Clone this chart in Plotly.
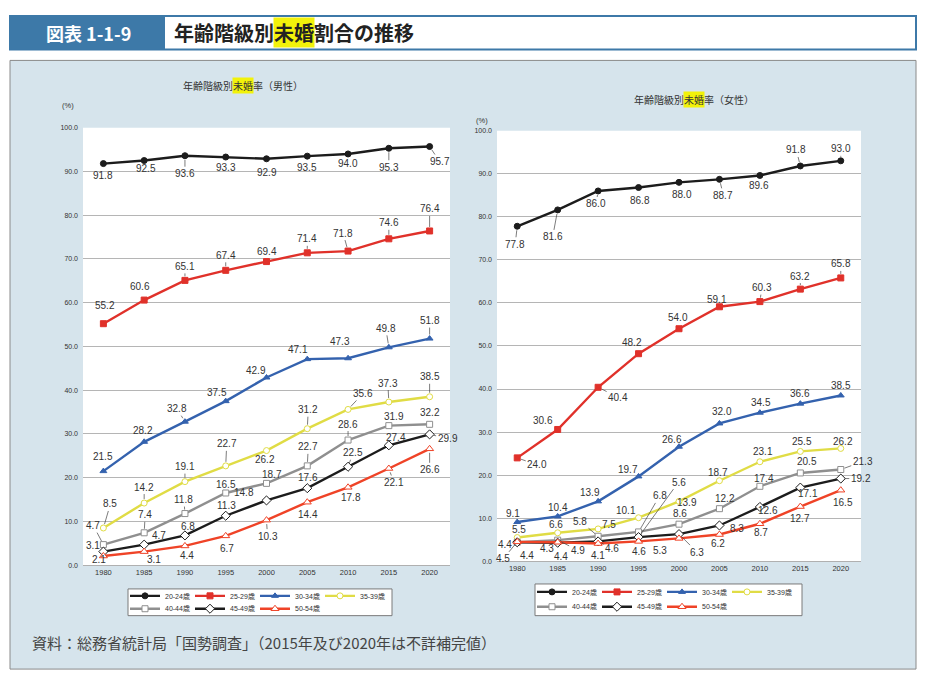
import plotly.graph_objects as go

W, H = 932, 681

# ---- data ----
YEARS = [1980, 1985, 1990, 1995, 2000, 2005, 2010, 2015, 2020]
AGE_GROUPS = ["20-24歳", "25-29歳", "30-34歳", "35-39歳", "40-44歳", "45-49歳", "50-54歳"]

MALE_20_24 = [91.8, 92.5, 93.6, 93.3, 92.9, 93.5, 94.0, 95.3, 95.7]
MALE_25_29 = [55.2, 60.6, 65.1, 67.4, 69.4, 71.4, 71.8, 74.6, 76.4]
MALE_30_34 = [21.5, 28.2, 32.8, 37.5, 42.9, 47.1, 47.3, 49.8, 51.8]
MALE_35_39 = [8.5, 14.2, 19.1, 22.7, 26.2, 31.2, 35.6, 37.3, 38.5]
MALE_40_44 = [4.7, 7.4, 11.8, 16.5, 18.7, 22.7, 28.6, 31.9, 32.2]
MALE_45_49 = [3.1, 4.7, 6.8, 11.3, 14.8, 17.6, 22.5, 27.4, 29.9]
MALE_50_54 = [2.1, 3.1, 4.4, 6.7, 10.3, 14.4, 17.8, 22.1, 26.6]

FEMALE_20_24 = [77.8, 81.6, 86.0, 86.8, 88.0, 88.7, 89.6, 91.8, 93.0]
FEMALE_25_29 = [24.0, 30.6, 40.4, 48.2, 54.0, 59.1, 60.3, 63.2, 65.8]
FEMALE_30_34 = [9.1, 10.4, 13.9, 19.7, 26.6, 32.0, 34.5, 36.6, 38.5]
FEMALE_35_39 = [5.5, 6.6, 7.5, 10.1, 13.9, 18.7, 23.1, 25.5, 26.2]
FEMALE_40_44 = [4.4, 4.9, 5.8, 6.8, 8.6, 12.2, 17.4, 20.5, 21.3]
FEMALE_45_49 = [4.4, 4.3, 4.6, 5.6, 6.3, 8.3, 12.6, 17.1, 19.2]
FEMALE_50_54 = [4.5, 4.4, 4.1, 4.6, 5.3, 6.2, 8.7, 12.7, 16.5]

MALE = [MALE_20_24, MALE_25_29, MALE_30_34, MALE_35_39, MALE_40_44, MALE_45_49, MALE_50_54]
FEMALE = [FEMALE_20_24, FEMALE_25_29, FEMALE_30_34, FEMALE_35_39, FEMALE_40_44, FEMALE_45_49, FEMALE_50_54]

Y_TICKS = list(range(0, 101, 10))

# ---- styling ----
# (line colour, marker symbol, marker fill, marker size)
SERIES_STYLE = [
    ("#1c1c1c", "circle", "#1c1c1c", 6),
    ("#e0312a", "square", "#e0312a", 6),
    ("#3462ae", "triangle-up", "#3462ae", 6),
    ("#e0dc45", "circle", "white", 6),
    ("#8f8f8f", "square", "white", 6),
    ("#1c1c1c", "diamond", "white", 7),
    ("#ef4327", "triangle-up", "white", 7),
]

# label offsets in pixels (dx, dy down, draw leader line)
MALE_LABEL_POS = [
    [(0, 12, 0), (2, 8, 0), (0, 18, 1), (0, 10, 0), (0, 14, 0), (0, 11, 0), (0, 10, 0), (0, 19, 1), (10, 15, 1)],
    [(2, -18, 0), (-4, -14, 0), (0, -14, 1), (0, -15, 1), (0, -10, 0), (0, -14, 1), (-5, -18, 1), (0, -16, 1), (0, -22, 1)],
    [(0, -15, 0), (-1, -11, 0), (-8, -13, 1), (-9, -9, 0), (-11, -7, 0), (-9, -10, 0), (-8, -17, 0), (-3, -19, 1), (0, -18, 1)],
    [(7, -24, 1), (0, -16, 1), (0, -15, 1), (1, -22, 1), (-2, 9, 0), (1, -19, 1), (15, -16, 1), (-1, -19, 1), (0, -20, 1)],
    [(-10, -19, 1), (1, -18, 1), (-1, -14, 1), (0, -8, 0), (5, -9, 0), (1, -19, 1), (0, -16, 1), (5, -9, 0), (0, -12, 0)],
    [(-10, -6, 1), (15, -9, 0), (3, -9, 0), (1, -10, 0), (-23, -8, 0), (1, -11, 0), (5, -14, 1), (7, -8, 0), (18, 4, 1)],
    [(-4, 4, 0), (10, 8, 1), (2, 10, 0), (1, 13, 0), (1, 16, 1), (1, 12, 0), (3, 10, 0), (5, 14, 1), (0, 21, 1)],
]
FEMALE_LABEL_POS = [
    [(-2, 18, 1), (-5, 27, 1), (-2, 13, 1), (1, 13, 0), (3, 12, 0), (4, 16, 1), (-1, 10, 0), (-4, -16, 1), (0, -12, 1)],
    [(20, 7, 1), (-15, -9, 0), (20, 10, 1), (-7, -11, 0), (-1, -11, 0), (-2, -7, 0), (2, -14, 1), (0, -13, 1), (0, -14, 1)],
    [(-4, -9, 0), (0, -9, 0), (-8, -9, 0), (-11, -7, 0), (-7, -7, 0), (3, -12, 0), (1, -10, 0), (0, -10, 0), (0, -10, 0)],
    [(2, -8, 0), (-2, -8, 0), (11, -4, 0), (-13, -7, 0), (8, 1, 0), (-1, -8, 0), (3, -10, 0), (2, -10, 0), (2, -7, 0)],
    [(-12, 2, 0), (20, 10, 1), (-18, -15, 1), (21, -36, 1), (1, -11, 0), (6, -10, 0), (4, -8, 0), (7, -11, 0), (22, -8, 1)],
    [(10, 13, 0), (-11, 6, 1), (14, 7, 1), (40, -55, 1), (18, 18, 1), (18, 3, 0), (8, 4, 0), (8, 6, 0), (20, 0, 1)],
    [(-14, 17, 1), (3, 14, 0), (0, 12, 0), (0, 10, 0), (-19, 12, 0), (-1, 9, 0), (1, 9, 0), (0, 12, 0), (2, 12, 0)],
]

NUM_FONT = "Liberation Sans, Arial, Noto Sans CJK JP, sans-serif"
JP_FONT = "Noto Sans CJK JP, sans-serif"
TEXT_COLOR = "#333333"
PANEL_COLOR = "#d6e4ec"
HEADER_BLUE = "#3d79a8"
HIGHLIGHT = "#f2f20a"
LEGEND_ROW_LEN = 4


def px(x):
    return x / W


def py(y):
    return 1 - y / H


# plot areas in pixels: (left, top, right, bottom)
LEFT_BOX = (83, 125, 450, 567)
RIGHT_BOX = (497, 128, 861, 563)

fig = go.Figure()


def add_series(data, xaxis, yaxis, legends):
    n = len(AGE_GROUPS)
    for i, (name, values) in enumerate(zip(AGE_GROUPS, data)):
        color, symbol, fill, size = SERIES_STYLE[i]
        row_end = (i == LEGEND_ROW_LEN - 1) or (i == n - 1)
        fig.add_trace(go.Scatter(
            x=YEARS, y=values, name=name,
            mode="lines+markers",
            line=dict(color=color, width=2.4),
            marker=dict(symbol=symbol, size=size, color=fill, line=dict(color=color, width=1)),
            xaxis=xaxis, yaxis=yaxis,
            legend=legends[0] if i < LEGEND_ROW_LEN else legends[1],
            legendwidth=32 if row_end else None,
            hoverinfo="x+y+name",
        ))


def label_annotations(data, positions, xref, yref):
    out = []
    for values, offs in zip(data, positions):
        for year, v, (dx, dy, line) in zip(YEARS, values, offs):
            a = dict(x=year, y=v, xref=xref, yref=yref, text=f"{v:.1f}",
                     font=dict(family=NUM_FONT, size=10, color=TEXT_COLOR))
            if line:
                a.update(showarrow=True, arrowhead=0, arrowwidth=0.7, arrowcolor="#444444",
                         ax=dx, ay=dy, standoff=4)
            else:
                a.update(showarrow=False, xshift=dx, yshift=-dy)
            out.append(a)
    return out


add_series(MALE, "x", "y", ("legend", "legend2"))
add_series(FEMALE, "x2", "y2", ("legend3", "legend4"))

axis_common_x = dict(
    range=[YEARS[0] - 2.5, YEARS[-1] + 2.5], tickvals=YEARS, showgrid=False,
    showline=True, linecolor="#b0b0b0", linewidth=1, ticks="", zeroline=False,
    tickfont=dict(family=NUM_FONT, size=7.5, color=TEXT_COLOR), fixedrange=True,
)
axis_common_y = dict(
    range=[0, 100], tickvals=Y_TICKS, ticktext=[f"{v:.1f}" for v in Y_TICKS],
    showgrid=True, gridcolor="#b5b5b5", gridwidth=1, zeroline=False, ticks="",
    ticklabelstandoff=4, tickfont=dict(family=NUM_FONT, size=7, color=TEXT_COLOR), fixedrange=True,
)


def dom(box):
    l, t, r, b = box
    return [px(l), px(r)], [py(b), py(t)]


lx, ly = dom(LEFT_BOX)
rx, ry = dom(RIGHT_BOX)

shapes = [
    # header
    dict(type="rect", xref="paper", yref="paper", x0=px(10), x1=px(916), y0=py(46), y1=py(12),
         fillcolor="white", line=dict(color=HEADER_BLUE, width=2), layer="below"),
    dict(type="rect", xref="paper", yref="paper", x0=px(10), x1=px(165), y0=py(46), y1=py(12),
         fillcolor=HEADER_BLUE, line=dict(width=0), layer="below"),
    # panel
    dict(type="rect", xref="paper", yref="paper", x0=px(10), x1=px(916), y0=py(672), y1=py(57),
         fillcolor=PANEL_COLOR, line=dict(color="#8a8a8a", width=1), layer="below"),
    # white plot areas
    dict(type="rect", xref="paper", yref="paper", x0=lx[0], x1=lx[1], y0=ly[0], y1=ly[1],
         fillcolor="white", line=dict(width=0), layer="below"),
    dict(type="rect", xref="paper", yref="paper", x0=rx[0], x1=rx[1], y0=ry[0], y1=ry[1],
         fillcolor="white", line=dict(width=0), layer="below"),
    # legend boxes
    dict(type="rect", xref="paper", yref="paper", x0=px(128), x1=px(392), y0=py(618), y1=py(591),
         fillcolor="white", line=dict(color="#7a7a7a", width=1), layer="below"),
    dict(type="rect", xref="paper", yref="paper", x0=px(535), x1=px(802), y0=py(618), y1=py(586),
         fillcolor="white", line=dict(color="#7a7a7a", width=1), layer="below"),
]

annotations = []


def split_title(x_start, y, font_size, parts, bold=False):
    """CJK title with the middle part highlighted; glyphs are full width."""
    items = []
    x = x_start
    for k, txt in enumerate(parts):
        text = f"<b>{txt}</b>" if bold else txt
        a = dict(x=px(x), y=py(y), xref="paper", yref="paper", text=text, showarrow=False,
                 xanchor="left", yanchor="middle", borderpad=0,
                 font=dict(family=JP_FONT, size=font_size, color="#222222" if bold else TEXT_COLOR))
        if k == 1:
            a["bgcolor"] = HIGHLIGHT
        items.append(a)
        x += len(txt) * font_size
    return items


annotations += [
    dict(x=px(88), y=py(29), xref="paper", yref="paper", text="<b>図表 1-1-9</b>", showarrow=False,
         xanchor="center", yanchor="middle", font=dict(family=JP_FONT, size=18, color="white")),
]
annotations += split_title(173, 29, 20, ("年齢階級別", "未婚", "割合の推移"), bold=True)
annotations += split_title(182, 82, 10, ("年齢階級別", "未婚", "率（男性）"))
annotations += split_title(633, 96, 10, ("年齢階級別", "未婚", "率（女性）"))
annotations += [
    dict(x=px(68), y=py(103), xref="paper", yref="paper", text="(%)", showarrow=False,
         xanchor="center", yanchor="middle", font=dict(family=NUM_FONT, size=7.5, color=TEXT_COLOR)),
    dict(x=px(482), y=py(118), xref="paper", yref="paper", text="(%)", showarrow=False,
         xanchor="center", yanchor="middle", font=dict(family=NUM_FONT, size=7.5, color=TEXT_COLOR)),
    dict(x=px(30), y=py(645), xref="paper", yref="paper", xanchor="left", yanchor="middle",
         text="資料：総務省統計局「国勢調査」（2015年及び2020年は不詳補完値）", showarrow=False,
         font=dict(family=JP_FONT, size=15, color="#444444")),
]
annotations += label_annotations(MALE, MALE_LABEL_POS, "x", "y")
annotations += label_annotations(FEMALE, FEMALE_LABEL_POS, "x2", "y2")

legend_common = dict(
    orientation="h", xanchor="left", yanchor="middle", bgcolor="rgba(0,0,0,0)",
    borderwidth=0, itemwidth=30, entrywidth=20, entrywidthmode="pixels",
    font=dict(family=NUM_FONT, size=7, color=TEXT_COLOR), itemclick=False, itemdoubleclick=False,
)

fig.update_layout(
    width=W, height=H,
    margin=dict(l=0, r=0, t=0, b=0),
    paper_bgcolor="white", plot_bgcolor="white",
    xaxis=dict(domain=lx, anchor="y", **axis_common_x),
    yaxis=dict(domain=ly, anchor="x", **axis_common_y),
    xaxis2=dict(domain=rx, anchor="y2", **axis_common_x),
    yaxis2=dict(domain=ry, anchor="x2", **axis_common_y),
    legend=dict(x=px(125), y=py(598), **legend_common),
    legend2=dict(x=px(125), y=py(611), **legend_common),
    legend3=dict(x=px(532), y=py(594), **legend_common),
    legend4=dict(x=px(532), y=py(609), **legend_common),
    shapes=shapes,
    annotations=annotations,
    hovermode="closest",
)

# drop the browser's default page margin so the figure sits at the window origin
fig.write_html("out.html", config={"displayModeBar": False},
               post_script="document.body.style.margin='0';")
